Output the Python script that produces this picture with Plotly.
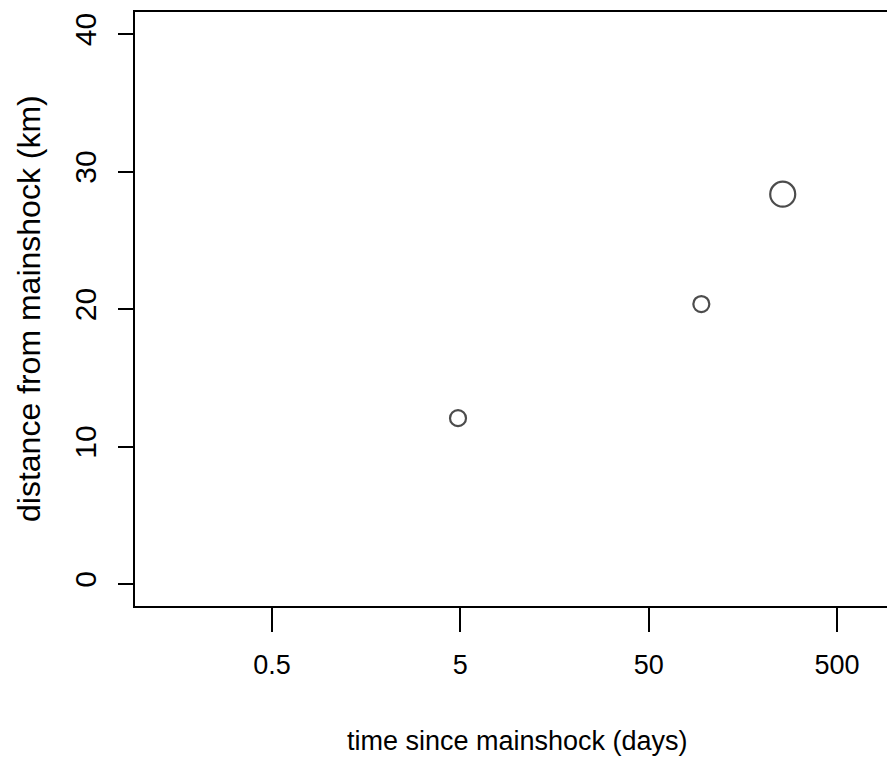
import plotly.graph_objects as go

# data
time_days = [4.86, 95.2, 257.5]
distance_km = [12.06, 20.36, 28.35]
x_tick_vals = [0.5, 5, 50, 500]
x_tick_text = ["0.5", "5", "50", "500"]
y_tick_vals = [0, 10, 20, 30, 40]
y_tick_text = ["0", "10", "20", "30", "40"]
x_label = "time since mainshock (days)"
y_label = "distance from mainshock (km)"

marker_sizes = [16, 16, 25]
FONT = "Liberation Sans, Arial, sans-serif"

fig = go.Figure()
fig.add_trace(go.Scatter(
    x=time_days, y=distance_km, mode="markers",
    marker=dict(symbol="circle-open", size=marker_sizes, color="black",
                line=dict(color="black", width=2.2)),
    showlegend=False, hoverinfo="x+y",
))

fig.update_layout(
    width=887, height=757,
    margin=dict(l=135, r=0, t=12, b=151, pad=0),
    paper_bgcolor="white", plot_bgcolor="white",
    font=dict(family=FONT, color="black"),
    xaxis=dict(
        type="log", range=[-1.0285, 2.9645],
        tickvals=x_tick_vals, ticktext=x_tick_text,
        ticks="outside", ticklen=24, tickwidth=1.5, tickcolor="black",
        showline=True, linecolor="black", linewidth=2, mirror=True,
        showgrid=False, zeroline=False,
        tickfont=dict(size=27, family=FONT, color="black"),
        ticklabelstandoff=10,
    ),
    yaxis=dict(
        range=[-1.6, 41.6],
        tickvals=y_tick_vals, ticktext=y_tick_text,
        ticks="outside", ticklen=15, tickwidth=1.5, tickcolor="black",
        showline=True, linecolor="black", linewidth=2, mirror=False,
        showgrid=False, zeroline=False, tickangle=-90,
        tickfont=dict(size=30, family=FONT, color="black"),
        ticklabelstandoff=10,
    ),
    annotations=[
        dict(text=x_label, xref="paper", yref="paper", x=0.508, y=0,
             xanchor="center", yanchor="middle", yshift=-135, showarrow=False,
             font=dict(size=27, family=FONT, color="black")),
        dict(text=y_label, xref="paper", yref="paper", x=0, y=0.5,
             xanchor="center", yanchor="middle", xshift=-106, textangle=-90,
             showarrow=False, font=dict(size=32, family=FONT, color="black")),
    ],
)

fig.write_html(
    "out.html",
    config={"displayModeBar": False},
    post_script="document.body.style.margin='0';document.body.style.overflow='hidden';",
)
